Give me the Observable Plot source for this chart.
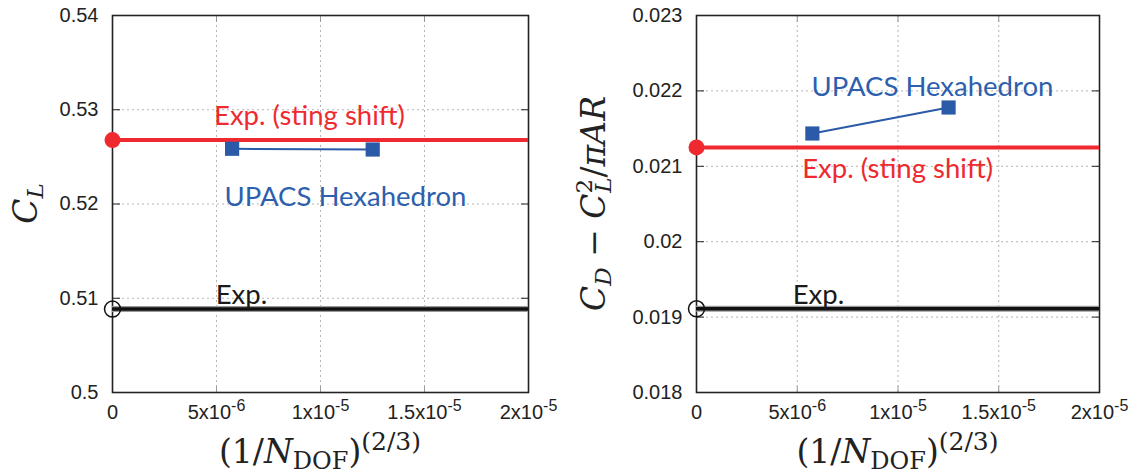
<!DOCTYPE html>
<html><head><meta charset="utf-8">
<script src="https://cdn.jsdelivr.net/npm/d3@7"></script>
<script src="https://cdn.jsdelivr.net/npm/@observablehq/plot@0.6"></script>
<style>
body{margin:0;background:#fff;}
#wrap{display:flex;width:1139px;height:474px;overflow:hidden;}
svg g[aria-label="y-axis tick label"], svg g[aria-label="x-axis tick label"] { font-size: 20px; }
</style></head><body><div id="wrap"></div>
<script>
// ---- data ----
const xTicks = [0, 5e-6, 1e-5, 1.5e-5, 2e-5];
const xTickBase = ["0", "5x10", "1x10", "1.5x10", "2x10"];
const xTickExp = ["", "-6", "-5", "-5", "-5"];

const clTicks = [0.5, 0.51, 0.52, 0.53, 0.54];
const clTickLabels = ["0.5", "0.51", "0.52", "0.53", "0.54"];
const cdTicks = [0.018, 0.019, 0.02, 0.021, 0.022, 0.023];
const cdTickLabels = ["0.018", "0.019", "0.02", "0.021", "0.022", "0.023"];

const gridX = [5.75e-6, 1.251e-5];           // (1/N_DOF)^(2/3) of the two grids
const upacsCL = [0.52586, 0.52578];
const upacsCD = [0.021435, 0.02178];

const expX = [0];
const expCL = [0.50885];
const expStingCL = [0.52678];
const expCD = [0.01911];
const expStingCD = [0.02125];

const annoText = ["Exp. (sting shift)", "UPACS Hexahedron", "Exp."];
const annoColor = ["#ee2a30", "#2d5fae", "#1a1a1a"];
const annoCLx = [9.47e-6, 11.2e-6, 6.2e-6];
const annoCLy = [0.52928, 0.5207, 0.5103];
const annoCDx = [9.98e-6, 11.71e-6, 6.05e-6];
const annoCDy = [0.020967, 0.022054, 0.019296];

const RED = "#ee2a30", BLUE = "#2b5aa8", BLACK = "#111";
const SERIF = "'DejaVu Serif', 'Liberation Serif', serif";

function panel(o) {
  const W = o.width, H = 474, mt = 15, mb = 82;
  const pts = gridX.map((x, i) => ({x, y: o.upacs[i]}));
  const sting = expX.map((x, i) => ({x, y: o.sting[i]}));
  const exp = expX.map((x, i) => ({x, y: o.exp[i]}));
  const annos = annoText.map((t, i) => ({t, x: o.ax[i], y: o.ay[i], c: annoColor[i]}));
  const yLab = new Map(o.yTicks.map((t, i) => [t, o.yLabels[i]]));
  const grid = {stroke: "#b5b5b5", strokeOpacity: 1, strokeDasharray: "2,3", strokeWidth: 1};
  const svg = Plot.plot({
    width: W, height: H,
    marginLeft: o.ml, marginRight: o.mr, marginTop: mt, marginBottom: mb,
    style: {fontFamily: "'Liberation Sans', Arial, sans-serif", fontSize: "20px", color: "#222", background: "#fff"},
    x: {domain: [0, 2e-5]},
    y: {domain: [o.yTicks[0], o.yTicks[o.yTicks.length - 1]]},
    marks: [
      Plot.gridX(xTicks, grid),
      Plot.gridY(o.yTicks, grid),
      Plot.axisX(xTicks, {anchor: "bottom", tickSize: -6, stroke: "#999", fill: "none", label: null}),
      Plot.axisX(xTicks, {anchor: "top", tickSize: -6, stroke: "#999", fill: "none", label: null}),
      Plot.axisY(o.yTicks, {anchor: "left", tickSize: -8, stroke: "#222", fill: "none", label: null}),
      Plot.axisY(o.yTicks, {anchor: "right", tickSize: -8, stroke: "#222", fill: "none", label: null}),
      Plot.axisY(o.yTicks, {anchor: "left", tickSize: 0, tickPadding: 14, tickFormat: d => yLab.get(d), fill: "#222", label: null}),
      Plot.axisX(xTicks, {anchor: "bottom", tickSize: 0, tickPadding: 12, tickFormat: d => xTickBase[xTicks.indexOf(d)], fill: "#222", label: null}),
      Plot.frame({stroke: "#222", strokeWidth: 1.6}),
      Plot.ruleY(exp, {y: "y", stroke: "#9a9a9a", strokeWidth: 6}),
      Plot.ruleY(exp, {y: "y", stroke: BLACK, strokeWidth: 3.5}),
      Plot.ruleY(sting, {y: "y", stroke: RED, strokeWidth: 4}),
      Plot.line(pts, {x: "x", y: "y", stroke: BLUE, strokeWidth: 2}),
      Plot.dot(pts, {x: "x", y: "y", symbol: "square", r: 8, fill: BLUE}),
      Plot.dot(sting, {x: "x", y: "y", r: 8, fill: RED}),
      Plot.dot(exp, {x: "x", y: "y", r: 8, stroke: BLACK, strokeWidth: 1.5, fill: "none"}),
      Plot.text(annos, {x: "x", y: "y", text: "t", fill: "c", fontSize: 27.5, fontFamily: "Lato"})
    ]
  });
  const s = d3.select(svg);
  // superscript exponents on x tick labels
  s.selectAll('g[aria-label="x-axis tick label"] text').each(function() {
    const t = d3.select(this);
    const base = t.text();
    const i = xTickBase.indexOf(base);
    if (i < 0 || !xTickExp[i]) return;
    t.text(null);
    t.append("tspan").text(base);
    t.append("tspan").attr("dy", "-0.5em").attr("font-size", 16).text(xTickExp[i]);
  });
  const cx = (o.ml + (W - o.mr)) / 2, cy = (mt + (H - mb)) / 2;
  // x axis title
  const xt = s.append("text").attr("x", cx).attr("y", 463).attr("text-anchor", "middle")
    .attr("font-family", SERIF).attr("font-size", 33).attr("fill", "#222");
  xt.append("tspan").text("(1/");
  xt.append("tspan").attr("font-style", "italic").text("N");
  xt.append("tspan").attr("font-size", 24).attr("dy", 6).text("DOF");
  xt.append("tspan").attr("dy", -6).text(")");
  xt.append("tspan").attr("font-size", 25).attr("dy", -13).text("(2/3)");
  // y axis title
  const yt = s.append("text").attr("transform", `translate(${o.yTitleX},${cy}) rotate(-90)`).attr("text-anchor", "middle")
    .attr("font-family", SERIF).attr("font-size", 33).attr("fill", "#222");
  o.yTitle(yt);
  return svg;
}

const wrap = document.getElementById("wrap");
wrap.appendChild(panel({
  width: 569, ml: 112, mr: 41, yTicks: clTicks, yLabels: clTickLabels,
  upacs: upacsCL, sting: expStingCL, exp: expCL, ax: annoCLx, ay: annoCLy, yTitleX: 37,
  yTitle: t => {
    t.append("tspan").attr("font-style", "italic").text("C");
    t.append("tspan").attr("font-style", "italic").attr("font-size", 23).attr("dy", 6).text("L");
  }
}));
wrap.appendChild(panel({
  width: 570, ml: 127, mr: 40, yTicks: cdTicks, yLabels: cdTickLabels,
  upacs: upacsCD, sting: expStingCD, exp: expCD, ax: annoCDx, ay: annoCDy, yTitleX: 36,
  yTitle: t => {
    t.append("tspan").attr("font-style", "italic").text("C");
    t.append("tspan").attr("font-style", "italic").attr("font-size", 23).attr("dy", 6).text("D");
    t.append("tspan").attr("dy", -6).text(" − ");
    t.append("tspan").attr("font-style", "italic").text("C");
    t.append("tspan").attr("font-size", 23).attr("dy", -13).text("2");
    t.append("tspan").attr("font-style", "italic").attr("font-size", 23).attr("dx", -14).attr("dy", 19).text("L");
    t.append("tspan").attr("dy", -6).text("/");
    t.append("tspan").attr("font-style", "italic").text("πAR");
  }
}));
</script>
</body></html>
